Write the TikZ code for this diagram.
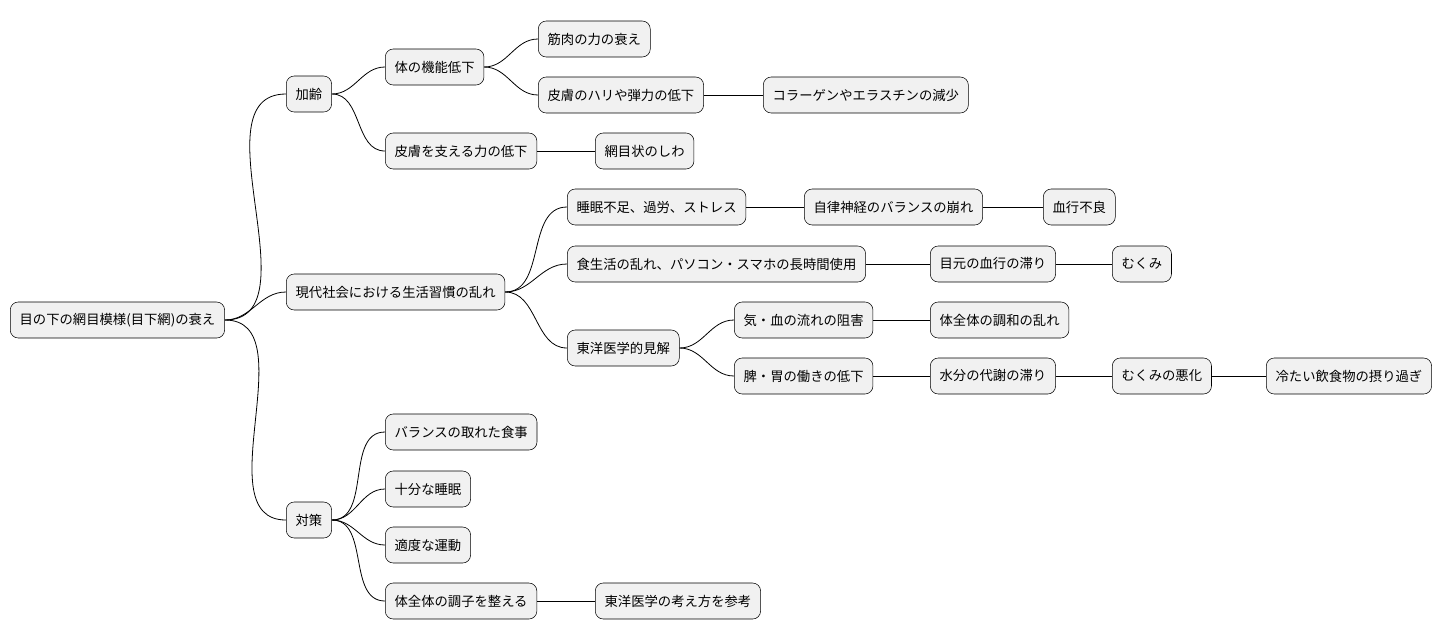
\documentclass[tikz,border=0pt]{standalone}
\usepackage{fontspec}
\setmainfont{Noto Sans CJK JP}
\definecolor{boxfill}{HTML}{F1F1F1}
\tikzset{
  topic/.style={draw=black,fill=boxfill,rounded corners=6pt,anchor=west,
    minimum height=27pt,inner xsep=7pt,font=\fontsize{10pt}{12pt}\selectfont},
  link/.style={black,line width=0.6pt}
}
\begin{document}
\begin{tikzpicture}[x=0.75pt,y=-0.75pt]
\useasboundingbox (0,0) rectangle (1451,640);
% root and main branches
\node[topic] (root) at (10,320) {目の下の網目模様(目下網)の衰え};
\node[topic] (age) at (286,94) {加齢};
\node[topic] (life) at (286,292) {現代社会における生活習慣の乱れ};
\node[topic] (care) at (286,520) {対策};
% aging
\node[topic] (func) at (385,67) {体の機能低下};
\node[topic] (muscle) at (538,39) {筋肉の力の衰え};
\node[topic] (skin) at (538,95) {皮膚のハリや弾力の低下};
\node[topic] (coll) at (763,95) {コラーゲンやエラスチンの減少};
\node[topic] (supp) at (385,151) {皮膚を支える力の低下};
\node[topic] (net) at (595,151) {網目状のしわ};
% lifestyle
\node[topic] (sleep) at (567,207) {睡眠不足、過労、ストレス};
\node[topic] (nerve) at (804,207) {自律神経のバランスの崩れ};
\node[topic] (blood) at (1043,207) {血行不良};
\node[topic] (food) at (567,264) {食生活の乱れ、パソコン・スマホの長時間使用};
\node[topic] (eye) at (930,264) {目元の血行の滞り};
\node[topic] (swell) at (1112,264) {むくみ};
\node[topic] (east) at (567,348) {東洋医学的見解};
\node[topic] (qi) at (734,320) {気・血の流れの阻害};
\node[topic] (harm) at (930,320) {体全体の調和の乱れ};
\node[topic] (spleen) at (734,376) {脾・胃の働きの低下};
\node[topic] (water) at (930,376) {水分の代謝の滞り};
\node[topic] (worse) at (1112,376) {むくみの悪化};
\node[topic] (cold) at (1266,376) {冷たい飲食物の摂り過ぎ};
% measures
\node[topic] (meal) at (385,432) {バランスの取れた食事};
\node[topic] (rest) at (385,489) {十分な睡眠};
\node[topic] (move) at (385,545) {適度な運動};
\node[topic] (tune) at (385,601) {体全体の調子を整える};
\node[topic] (ref) at (595,601) {東洋医学の考え方を参考};
% connectors
\foreach \a/\b in {root/age,root/life,root/care,age/func,age/supp,func/muscle,func/skin,
  life/sleep,life/food,life/east,east/qi,east/spleen,
  care/meal,care/rest,care/move,care/tune}
  \draw[link] (\a.east) to[out=0,in=180] (\b.west);
\foreach \a/\b in {skin/coll,supp/net,sleep/nerve,nerve/blood,food/eye,eye/swell,
  qi/harm,spleen/water,water/worse,worse/cold,tune/ref}
  \draw[link] (\a.east) -- (\b.west);
\end{tikzpicture}
\end{document}
